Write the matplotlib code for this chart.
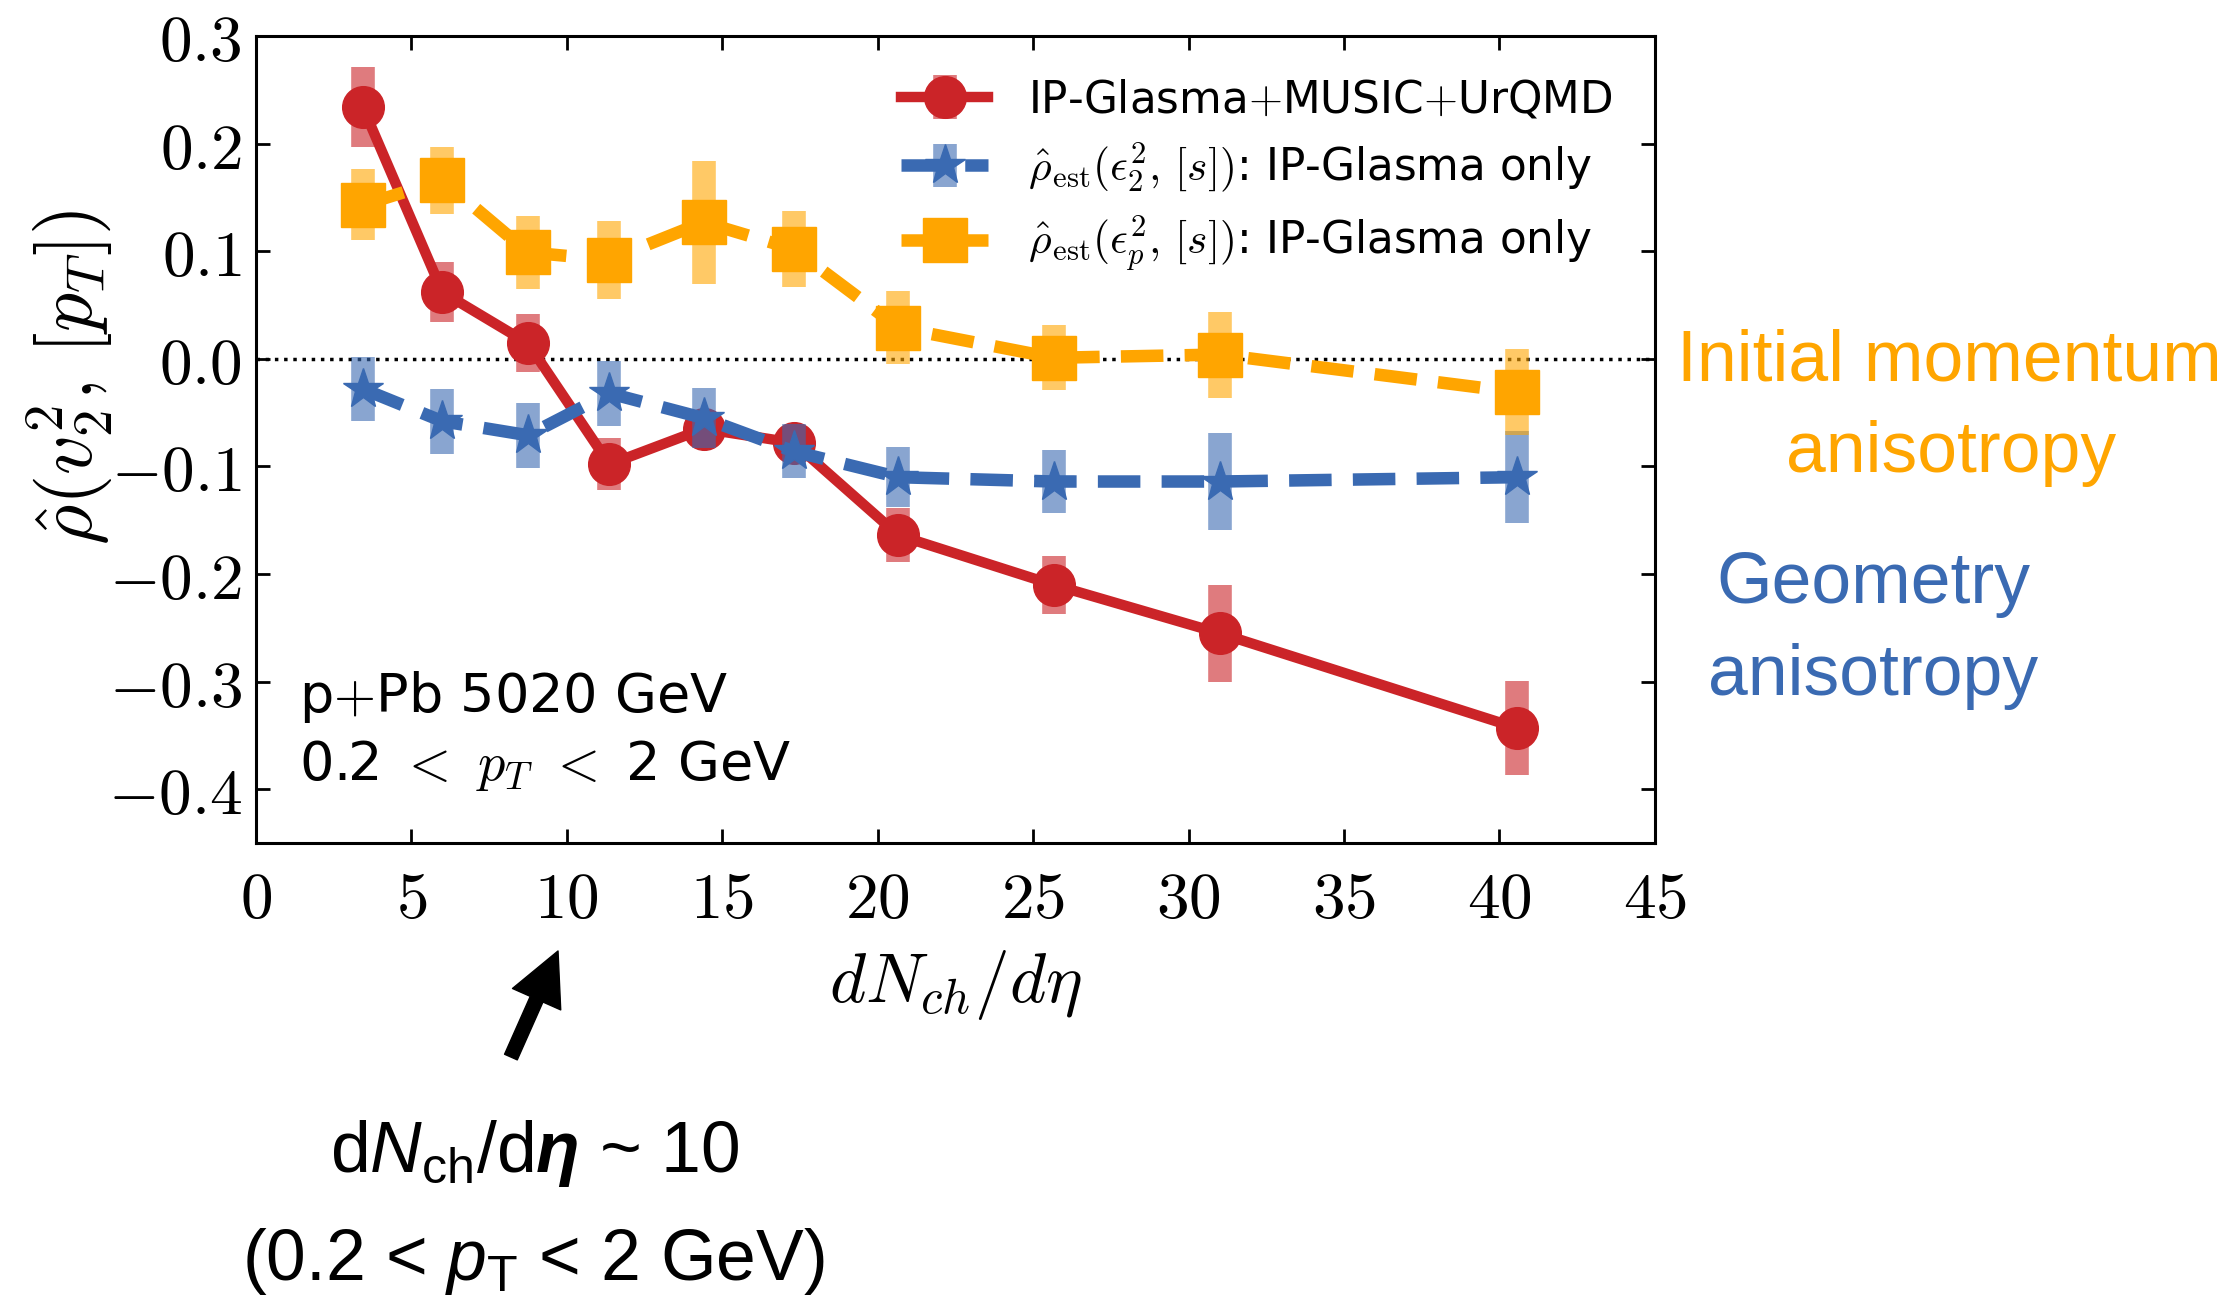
import matplotlib
matplotlib.use("Agg")
import matplotlib.pyplot as plt
from matplotlib.colors import to_rgba

plt.rcParams['font.family'] = ['DejaVu Sans']
plt.rcParams['mathtext.fontset'] = 'cm'
# used only by the texts outside the axes (math_fontfamily='custom')
plt.rcParams['mathtext.rm'] = 'Liberation Sans'
plt.rcParams['mathtext.it'] = 'Liberation Sans:italic'
plt.rcParams['mathtext.bf'] = 'Liberation Sans:italic:bold'

# data
dndeta = [3.44, 6.0, 8.75, 11.37, 14.4, 17.3, 20.67, 25.66, 31.0, 40.56]
rho_full = [0.234, 0.062, 0.0145, -0.098, -0.065, -0.078, -0.164, -0.21, -0.255, -0.343]
rho_full_err = [0.037, 0.028, 0.027, 0.024, 0.015, 0.014, 0.025, 0.027, 0.045, 0.044]
rho_eps2 = [-0.028, -0.058, -0.071, -0.032, -0.055, -0.086, -0.11, -0.114, -0.114, -0.11]
rho_eps2_err = [0.03, 0.03, 0.03, 0.03, 0.028, 0.025, 0.028, 0.029, 0.045, 0.043]
rho_epsp = [0.143, 0.166, 0.099, 0.092, 0.127, 0.102, 0.029, 0.001, 0.004, -0.031]
rho_epsp_err = [0.033, 0.031, 0.034, 0.036, 0.057, 0.035, 0.034, 0.03, 0.04, 0.04]

labels = ['IP-Glasma$+$MUSIC$+$UrQMD',
          r'$\hat{\rho}_{\rm est}(\epsilon_2^2,\,[s])$: IP-Glasma only',
          r'$\hat{\rho}_{\rm est}(\epsilon_p^2,\,[s])$: IP-Glasma only']

xticks = [0, 5, 10, 15, 20, 25, 30, 35, 40, 45]
xticklabels = ['$%d$' % t for t in xticks]
yticks = [-0.4, -0.3, -0.2, -0.1, 0.0, 0.1, 0.2, 0.3]
yticklabels = ['$%.1f$' % t for t in yticks]

red = '#cb2428'
blue = '#3a6ab2'
orange = '#ffa500'

fig = plt.figure(figsize=(22.33, 12.97), dpi=100)
ax = fig.add_axes([0.1146, 0.350, 0.6265, 0.6222])

ax.axhline(0, color='black', ls=':', lw=2.5, zorder=1)

h1 = ax.errorbar(dndeta, rho_full, yerr=rho_full_err, fmt='-o', color=red, lw=7.5, ms=30,
                 ecolor=to_rgba(red, 0.6), elinewidth=17, capsize=0, zorder=3, label=labels[0])
h2 = ax.errorbar(dndeta, rho_eps2, yerr=rho_eps2_err, fmt='--*', color=blue, lw=9, ms=30,
                 dashes=(3.4, 1.7), ecolor=to_rgba(blue, 0.6), elinewidth=17, capsize=0,
                 zorder=4, label=labels[1])
h3 = ax.errorbar(dndeta, rho_epsp, yerr=rho_epsp_err, fmt='--s', color=orange, lw=9, ms=31,
                 dashes=(3.4, 1.7), ecolor=to_rgba(orange, 0.6), elinewidth=17, capsize=0,
                 zorder=5, label=labels[2])

ax.set_xlim(0, 45)
ax.set_ylim(-0.45, 0.3)
ax.set_xticks(xticks)
ax.set_xticklabels(xticklabels)
ax.set_yticks(yticks)
ax.set_yticklabels(yticklabels)
ax.tick_params(direction='in', top=True, right=True, length=10, width=2, labelsize=47)
ax.tick_params(axis='x', pad=18)
ax.tick_params(axis='y', pad=10)
for s in ax.spines.values():
    s.set_linewidth(2.2)

ax.set_xlabel(r'$dN_{ch}/d\eta$', fontsize=50)
ax.xaxis.set_label_coords(0.5, -0.13)
ax.set_ylabel(r'$\hat{\rho}(v_2^2,\,[p_T])$', fontsize=56)
ax.yaxis.set_label_coords(-0.1, 0.577)

ax.legend(handles=[h1, h2, h3], loc='upper left', bbox_to_anchor=(0.461, 0.948),
          frameon=False, fontsize=31.5, handlelength=2.0, handletextpad=0.9,
          labelspacing=0.45, borderpad=0, borderaxespad=0)

ax.text(0.031, 0.162, 'p$+$Pb 5020 GeV', transform=ax.transAxes, fontsize=39, va='baseline')
ax.text(0.031, 0.078, '0.2 $<$ $p_T$ $<$ 2 GeV', transform=ax.transAxes, fontsize=39,
        va='baseline')

# side notes
side = dict(fontsize=51.5, family='Liberation Sans', ha='center', va='baseline')
fig.text(0.8729, 0.707, 'Initial momentum', color=orange, **side)
fig.text(0.8736, 0.6363, 'anisotropy', color=orange, **side)
fig.text(0.839, 0.535, 'Geometry', color=blue, **side)
fig.text(0.839, 0.4641, 'anisotropy', color=blue, **side)

fig.text(0.2395, 0.0966, r'd$N_{\rm ch}$/d$\mathbf{\eta}$ ~ 10', math_fontfamily='custom', **side)
fig.text(0.239, 0.0131, r'(0.2 < $p_{\rm T}$ < 2 GeV)', math_fontfamily='custom', **side)

ax.annotate('', xy=(0.2499, 0.2668), xycoords='figure fraction',
            xytext=(0.2288, 0.185), textcoords='figure fraction',
            arrowprops=dict(facecolor='black', edgecolor='black', width=10,
                            headwidth=38, headlength=38, shrink=0),
            annotation_clip=False)

fig.savefig('out.png', dpi=100)
